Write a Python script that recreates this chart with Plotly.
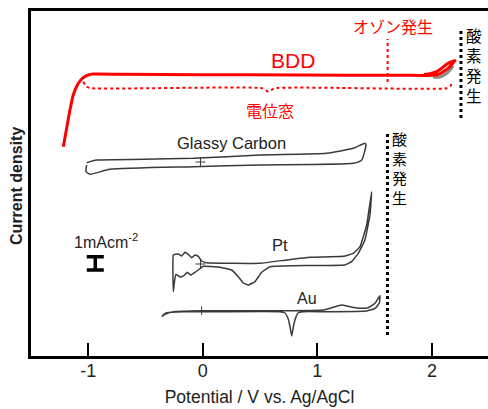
import plotly.graph_objects as go

# ---------------- data (potential V vs Ag/AgCl, current density offset a.u.) ----------------
bdd_v = [-1.217, -1.188, -1.159, -1.130, -1.086, -1.043, -0.999, -0.955, -0.708, -0.024, 0.848,
         1.719, 2.011, 2.055, 2.099, 2.157, 2.192, 2.201, 2.172, 2.128, 2.085, 2.041, 1.991, 1.930]
bdd_j = [209.3, 227.7, 246, 261, 272.7, 278.3, 281, 282, 281.7, 281.3, 281,
         280.7, 280.7, 281.7, 284.3, 289.3, 294.3, 295.3, 294.3, 291.7, 287.7, 284.3, 282.5, 281.5]
bdd_shadow_v = [2.009, 2.070, 2.131, 2.183]
bdd_shadow_j = [279, 279, 283, 290]

window_v = [-1.043, -1.013, -0.969, 0.517, 0.572, 0.627, 2.128, 2.163, 2.172]
window_j = [274.3, 269.3, 267.7, 267.7, 264.3, 267.7, 267.7, 270, 274.3]

gc_v = [-1.013, -0.926, -0.519, -0.083, 0.499, 1.081, 1.313, 1.415,
        1.424, 1.387, 1.313, 0.499, -0.083, -0.810, -0.984, -1.019, -1.013]
gc_j = [193.3, 196, 196.7, 197.7, 201, 202.7, 207.7, 212.7,
        211, 196, 192.7, 191, 189.3, 186.7, 181.7, 184.3, 191]

pt_v = [-0.257, -0.214, -0.184, -0.155, -0.127, -0.097, -0.068, -0.039, -0.010, 0.034, 0.499,
        0.732, 0.935, 1.226, 1.313, 1.372, 1.430, 1.474,
        1.459, 1.415, 1.357, 1.299, 1.241, 0.790, 0.586, 0.514, 0.455, 0.397, 0.353, 0.310,
        0.252, 0.150, 0.004, -0.039, -0.068, -0.106, -0.135, -0.164, -0.199, -0.234, -0.249,
        -0.257, -0.257]
pt_j = [101, 102, 100, 103.7, 101.7, 98.3, 101, 99.7, 95, 93.3, 92.7,
        96, 98.7, 99.7, 102.7, 109.3, 131, 164.3,
        141, 116, 102.7, 94.3, 91, 90.3, 89.3, 83.7, 74.3, 71, 73, 79.3,
        86, 88.7, 89.7, 86, 83.7, 81, 83.7, 80.3, 79, 81.7, 72.7,
        64.3, 101]

au_v = [-0.359, -0.330, -0.257, -0.010, 0.702, 1.051, 1.125, 1.212, 1.284, 1.372, 1.444, 1.503, 1.546,
        1.540, 1.503, 1.430, 1.081, 0.874, 0.831, 0.810, 0.792, 0.776, 0.760, 0.743, 0.717, 0.674,
        0.121, -0.170, -0.315, -0.349]
au_j = [39.3, 41.7, 44.3, 45.3, 45.3, 46, 48.3, 51, 49.3, 47.7, 48.3, 52.7, 60.3,
        52.7, 47.7, 45, 44.3, 44.3, 43, 38, 30, 20, 30, 38, 43, 44.3,
        44.3, 44.3, 43.3, 41]

ozone_v = 1.613
ozone_j = [274, 317]
o2_bdd_v = 2.253
o2_bdd_j = [238, 325]
o2_metal_v = 1.612
o2_metal_j = [21, 223]

scale_v = -0.938
scale_j = 92.7
scale_half = 6.65  # half of 1 mA cm^-2

tick_vals = [-1, 0, 1, 2]
tick_text = ["-1", "0", "1", "2"]

RED = "#ff0000"
CURVE = "#3a3a3a"
JP = "Noto Sans CJK JP"
LAT = "Liberation Sans"

fig = go.Figure()

fig.add_trace(go.Scatter(x=bdd_shadow_v, y=bdd_shadow_j, mode="lines",
                         line=dict(color="#8a8a8a", width=3, shape="spline"), hoverinfo="skip"))
fig.add_trace(go.Scatter(x=bdd_v, y=bdd_j, mode="lines",
                         line=dict(color=RED, width=3, shape="spline", smoothing=0.6)))
fig.add_trace(go.Scatter(x=window_v, y=window_j, mode="lines",
                         line=dict(color=RED, width=2, dash="dot", shape="spline", smoothing=0.5)))
fig.add_trace(go.Scatter(x=[ozone_v, ozone_v], y=ozone_j, mode="lines",
                         line=dict(color=RED, width=2, dash="dot")))
for xv, yj in [(o2_bdd_v, o2_bdd_j), (o2_metal_v, o2_metal_j)]:
    fig.add_trace(go.Scatter(x=[xv, xv], y=yj, mode="lines",
                             line=dict(color="black", width=3, dash="dot")))

for xs, ys, sm in [(gc_v, gc_j, 0.5), (pt_v, pt_j, 0.3), (au_v, au_j, 0.4)]:
    fig.add_trace(go.Scatter(x=xs, y=ys, mode="lines",
                             line=dict(color=CURVE, width=1.5, shape="spline", smoothing=sm)))

# small origin markers
fig.add_trace(go.Scatter(x=[-0.02, -0.02], y=[194, 92], mode="markers",
                         marker=dict(symbol="cross-thin", size=7, line=dict(color=CURVE, width=1))))
fig.add_trace(go.Scatter(x=[-0.01], y=[45.3], mode="markers",
                         marker=dict(symbol="line-ns", size=6, line=dict(color=CURVE, width=1))))

# scale bar (1 mA cm^-2)
fig.add_trace(go.Scatter(x=[scale_v], y=[scale_j], mode="markers",
                         marker=dict(size=1, color="rgba(0,0,0,0)"),
                         error_y=dict(type="data", array=[scale_half], width=8.5, thickness=3.5,
                                      color="black")))

ann = [
    dict(x=0.790, y=296, text="BDD", font=dict(family=LAT, size=21, color=RED)),
    dict(x=1.662, y=330.2, text="オゾン発生", font=dict(family=JP, size=16, color=RED)),
    dict(x=0.586, y=246, text="電位窓", font=dict(family=JP, size=16, color=RED)),
    dict(x=2.37, y=291.3, text="酸<br>素<br>発<br>生", font=dict(family=JP, size=15.5, color="black")),
    dict(x=1.715, y=187.7, text="酸<br>素<br>発<br>生", font=dict(family=JP, size=15, color="black")),
    dict(x=0.252, y=213, text="Glassy Carbon", font=dict(family=LAT, size=16.5, color="#222")),
    dict(x=0.674, y=111, text="Pt", font=dict(family=LAT, size=16.5, color="#222")),
    dict(x=0.907, y=57.7, text="Au", font=dict(family=LAT, size=16, color="#222")),
    dict(x=-1.141, y=115, text="1mAcm<sup>-2</sup>", xanchor="left",
         font=dict(family=LAT, size=16, color="#222")),
]
annotations = []
for a in ann:
    a.setdefault("xanchor", "center")
    a.update(xref="x", yref="y", showarrow=False, yanchor="middle")
    annotations.append(a)
annotations.append(dict(xref="paper", yref="paper", x=-0.0306, y=0.493, text="<b>Current density</b>",
                        textangle=-90, showarrow=False, xanchor="center", yanchor="middle",
                        font=dict(family=LAT, size=16, color="#222")))

fig.update_layout(
    width=488, height=409,
    margin=dict(l=31, r=0, t=11, b=53),
    paper_bgcolor="white", plot_bgcolor="white",
    showlegend=False,
    annotations=annotations,
    xaxis=dict(range=[-1.499, 2.489], showgrid=False, zeroline=False,
               showline=True, linewidth=3, linecolor="black", mirror=True,
               tickvals=tick_vals, ticktext=tick_text, ticks="inside", ticklen=13, tickwidth=2,
               tickcolor="black", tickfont=dict(family=LAT, size=18, color="#222"),
               ticklabelstandoff=-4,
               title=dict(text="Potential / V vs. Ag/AgCl", font=dict(family=LAT, size=17.5, color="#222"),
                          standoff=12),
               automargin=False),
    yaxis=dict(range=[0, 345], showgrid=False, zeroline=False, showticklabels=False, ticks="",
               showline=True, linewidth=3, linecolor="black", mirror=False, automargin=False),
)

fig.write_html("out.html", config={"displayModeBar": False},
               post_script="document.body.style.margin='0';document.body.style.padding='0';")
